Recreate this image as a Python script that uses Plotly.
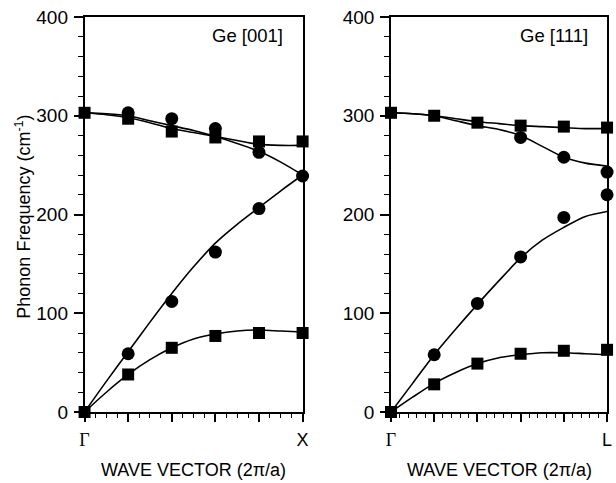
import numpy as np
import plotly.graph_objects as go

# ---- Ge [001]: Gamma -> X ----
q001 = [0.0, 0.2, 0.4, 0.6, 0.8, 1.0]
to_sq_001 = [303, 297, 284, 278, 274, 274]          # transverse optic (squares)
ta_sq_001 = [0, 38, 65, 77, 80, 80]                 # transverse acoustic (squares)
lo_ci_q001 = [0.2, 0.4, 0.6, 0.8, 1.0]
lo_ci_001 = [303, 297, 287, 263, 239]               # longitudinal optic (circles)
la_ci_q001 = [0.2, 0.4, 0.6, 0.8]
la_ci_001 = [59, 112, 162, 206]                     # longitudinal acoustic (circles)

# model dispersion curves, sampled every 0.1
qfit = [0.0, 0.1, 0.2, 0.3, 0.4, 0.5, 0.6, 0.7, 0.8, 0.9, 1.0]
lo_fit_001 = [303, 302, 300, 295, 290, 285, 279, 272, 264, 253, 240]
to_fit_001 = [303, 301, 298, 293, 287, 283, 279, 275, 271, 270, 270]
la_fit_001 = [0, 31, 61, 91, 120, 147, 171, 190, 207, 224, 240]
ta_fit_001 = [0, 20, 38, 53, 65, 74, 79, 82, 83, 82, 81]

# ---- Ge [111]: Gamma -> L ----
q111 = [0.0, 0.2, 0.4, 0.6, 0.8, 1.0]
to_sq_111 = [303, 300, 293, 290, 289, 288]
ta_sq_111 = [0, 28, 49, 59, 62, 63]
lo_ci_q111 = [0.6, 0.8, 1.0]
lo_ci_111 = [278, 258, 243]
la_ci_q111 = [0.2, 0.4, 0.6, 0.8, 1.0]
la_ci_111 = [58, 110, 157, 197, 220]

lo_fit_111 = [303, 302, 300, 295, 290, 286, 280, 269, 258, 252, 249]
to_fit_111 = [303, 302, 300, 297, 294, 292, 290, 289, 288, 287, 287]
la_fit_111 = [0, 29, 58, 84, 109, 133, 156, 174, 187, 198, 203]
ta_fit_111 = [0, 15, 29, 40, 49, 55, 58, 60, 60, 59, 58]

y_ticks = [0, 100, 200, 300, 400]
x_major = [0.0, 0.2, 0.4, 0.6, 0.8, 1.0]

SANS = "Liberation Sans, Arial, sans-serif"
W, H = 616, 483
M_T, M_B = 17, 71

fig = go.Figure()

def add_panel(xa, ya, fits, squares, circles):
    for yf in fits:
        fig.add_trace(go.Scatter(x=qfit, y=yf, mode="lines", line=dict(color="black", width=1.6, shape="spline", smoothing=0.8),
                                 xaxis=xa, yaxis=ya, showlegend=False, hoverinfo="skip", cliponaxis=False))
    for qx, yv in squares:
        fig.add_trace(go.Scatter(x=qx, y=yv, mode="markers", marker=dict(symbol="square", size=12, color="black"),
                                 xaxis=xa, yaxis=ya, showlegend=False, cliponaxis=False))
    for qx, yv in circles:
        fig.add_trace(go.Scatter(x=qx, y=yv, mode="markers", marker=dict(symbol="circle", size=13, color="black"),
                                 xaxis=xa, yaxis=ya, showlegend=False, cliponaxis=False))

add_panel("x", "y", [lo_fit_001, to_fit_001, la_fit_001, ta_fit_001],
          [(q001, to_sq_001), (q001, ta_sq_001)],
          [(lo_ci_q001, lo_ci_001), (la_ci_q001, la_ci_001)])
add_panel("x2", "y2", [lo_fit_111, to_fit_111, la_fit_111, ta_fit_111],
          [(q111, to_sq_111), (q111, ta_sq_111)],
          [(lo_ci_q111, lo_ci_111), (la_ci_q111, la_ci_111)])

gamma = '<span style="font-family:Liberation Serif">Γ</span>'

def xaxis(domain, end_label, minor_step):
    return dict(domain=domain, range=[0, 1], showline=True, linecolor="black", linewidth=1.6, mirror=True,
                showgrid=False, zeroline=False, ticks="outside", ticklen=8, tickwidth=1.5, tickcolor="black",
                tickmode="array", tickvals=x_major, ticktext=[gamma, "", "", "", "", end_label],
                tickfont=dict(family=SANS, size=18, color="black"), ticklabelstandoff=3,
                minor=dict(tickmode="linear", tick0=0, dtick=minor_step, ticks="outside", ticklen=4,
                           tickwidth=1.2, tickcolor="black", showgrid=False))

def yaxis(anchor):
    return dict(anchor=anchor, domain=[0, 1], range=[0, 400], showline=True, linecolor="black", linewidth=1.6,
                mirror=True, showgrid=False, zeroline=False, ticks="outside", ticklen=9, tickwidth=1.5,
                tickcolor="black", tickmode="array", tickvals=y_ticks,
                tickfont=dict(family=SANS, size=19, color="black"), ticklabelstandoff=2,
                minor=dict(tickmode="linear", tick0=0, dtick=20, ticks="outside", ticklen=5,
                           tickwidth=1.2, tickcolor="black", showgrid=False))

fig.update_layout(
    width=W, height=H, margin=dict(l=0, r=0, t=M_T, b=M_B),
    paper_bgcolor="white", plot_bgcolor="white",
    xaxis=xaxis([81 / W, 303 / W], "X", 0.05),
    yaxis=yaxis("x"),
    xaxis2=xaxis([393 / W, 613 / W], "L", 0.04),
    yaxis2=yaxis("x2"),
)
fig.layout.xaxis2.anchor = "y2"
fig.layout.xaxis.anchor = "y"

plot_h = H - M_T - M_B
title_y = (H - M_B - 470) / plot_h

ann = []
for xr, lab in [("x domain", "Ge [001]"), ("x2 domain", "Ge [111]")]:
    ann.append(dict(text=lab, xref=xr, yref="paper", x=0.92, y=(H - M_B - 35) / plot_h,
                    xanchor="right", yanchor="middle", showarrow=False,
                    font=dict(family=SANS, size=18.5, color="black")))
    ann.append(dict(text="WAVE VECTOR (2π/a)", xref=xr, yref="paper", x=0.5, y=title_y,
                    xanchor="center", yanchor="middle", showarrow=False,
                    font=dict(family=SANS, size=18, color="black")))
ann.append(dict(text="Phonon Frequency (cm<sup>-1</sup>)", xref="paper", yref="paper", x=18 / W,
                y=(H - M_B - 217) / plot_h, xanchor="center", yanchor="middle", textangle=-90,
                showarrow=False, font=dict(family=SANS, size=18, color="black")))
fig.update_layout(annotations=ann)

fig.write_html("out.html")
